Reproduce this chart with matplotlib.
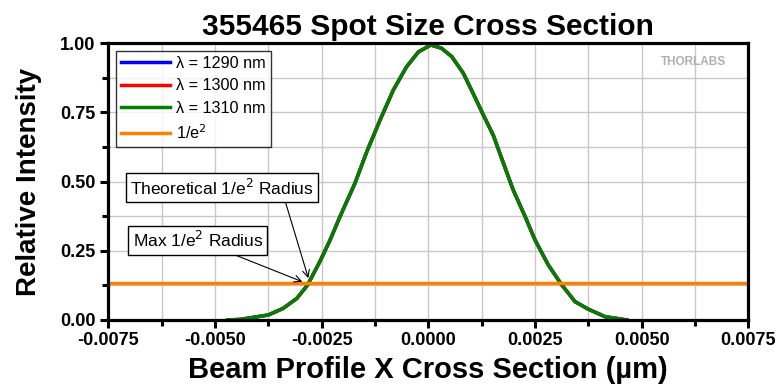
import matplotlib
matplotlib.use('Agg')
import matplotlib.pyplot as plt
from matplotlib.ticker import MultipleLocator, FormatStrFormatter

# beam profile (x in um, relative intensity)
profile_x = [-0.00470, -0.00441, -0.00375, -0.00340, -0.00308, -0.00283, -0.00254, -0.00230,
             -0.00207, -0.00172, -0.00144, -0.00113, -0.00082, -0.00051, -0.00023, 0.00006,
             0.00031, 0.00055, 0.00082, 0.00105, 0.00129, 0.00152, 0.00176, 0.00199,
             0.00227, 0.00250, 0.00281, 0.00313, 0.00344, 0.00375, 0.00414, 0.00465]
profile_y = [0.000, 0.002, 0.018, 0.042, 0.078, 0.126, 0.211, 0.289,
             0.373, 0.493, 0.608, 0.722, 0.830, 0.914, 0.968, 0.993,
             0.981, 0.951, 0.891, 0.818, 0.740, 0.668, 0.566, 0.469,
             0.373, 0.289, 0.199, 0.126, 0.066, 0.039, 0.012, 0.000]

labels = ['λ = 1290 nm', 'λ = 1300 nm', 'λ = 1310 nm']
colors = ['#0000ff', '#ff0000', '#008000']
inv_e2 = 0.135

plt.rcParams['font.family'] = ['Liberation Sans', 'DejaVu Sans']

fig = plt.figure(figsize=(7.8, 3.91), dpi=100)
ax = fig.add_axes([0.1387, 0.1816, 0.8208, 0.7084])

for lab, c in zip(labels, colors):
    ax.plot(profile_x, profile_y, color=c, lw=2.5, label=lab)
ax.axhline(inv_e2, color='#ff8000', lw=2.5, label='1/e$^2$')

ax.set_xlim(-0.0075, 0.0075)
ax.set_ylim(0, 1.0)
ax.xaxis.set_major_locator(MultipleLocator(0.0025))
ax.xaxis.set_minor_locator(MultipleLocator(0.00125))
ax.yaxis.set_major_locator(MultipleLocator(0.25))
ax.yaxis.set_minor_locator(MultipleLocator(0.125))
ax.xaxis.set_major_formatter(FormatStrFormatter('%.4f'))
ax.yaxis.set_major_formatter(FormatStrFormatter('%.2f'))
ax.grid(True, which='both', color='#c8c8c8', lw=1)
ax.set_axisbelow(True)

for s in ax.spines.values():
    s.set_linewidth(2.3)
ax.tick_params(which='major', direction='out', length=6, width=2.2, pad=3)
ax.tick_params(which='minor', direction='out', length=4, width=2.2)
ax.tick_params(top=False, right=False, which='both')

for t in ax.get_xticklabels() + ax.get_yticklabels():
    t.set_fontweight('bold')
    t.set_fontsize(13)

ax.set_title('355465 Spot Size Cross Section', fontsize=21.5,
             fontweight='bold', pad=6)
ax.set_xlabel('Beam Profile X Cross Section (µm)', fontsize=21,
              fontweight='bold', labelpad=5)
ax.set_ylabel('Relative Intensity', fontsize=20, fontweight='bold', labelpad=13)

leg = ax.legend(loc='upper left', fontsize=11.7, frameon=True, fancybox=False,
                edgecolor='black', handlelength=3.0, borderpad=0.3,
                labelspacing=0.45, borderaxespad=0.5, handletextpad=0.4)
leg.get_frame().set_linewidth(1)
for h in leg.get_lines():
    h.set_linewidth(2.5)

box = dict(boxstyle='square,pad=0.25', fc='white', ec='black', lw=1)
ax.annotate('Theoretical 1/e$^2$ Radius', xy=(-0.00281, 0.151),
            xytext=(-0.00484, 0.477), ha='center', va='center', fontsize=12.5,
            bbox=box, arrowprops=dict(arrowstyle='->', lw=0.8, color='black',
                                      relpos=(0.84, 0), shrinkA=0, shrinkB=0))
ax.annotate('Max 1/e$^2$ Radius', xy=(-0.00295, 0.138),
            xytext=(-0.00540, 0.288), ha='center', va='center', fontsize=12.5,
            bbox=box, arrowprops=dict(arrowstyle='->', lw=0.8, color='black',
                                      relpos=(0.695, 0), shrinkA=0, shrinkB=0))

ax.text(0.965, 0.93, 'THORLABS', transform=ax.transAxes, ha='right', va='center',
        fontsize=8.5, fontweight='bold', color='#b0b0b0')

fig.savefig('out.png', dpi=100)
